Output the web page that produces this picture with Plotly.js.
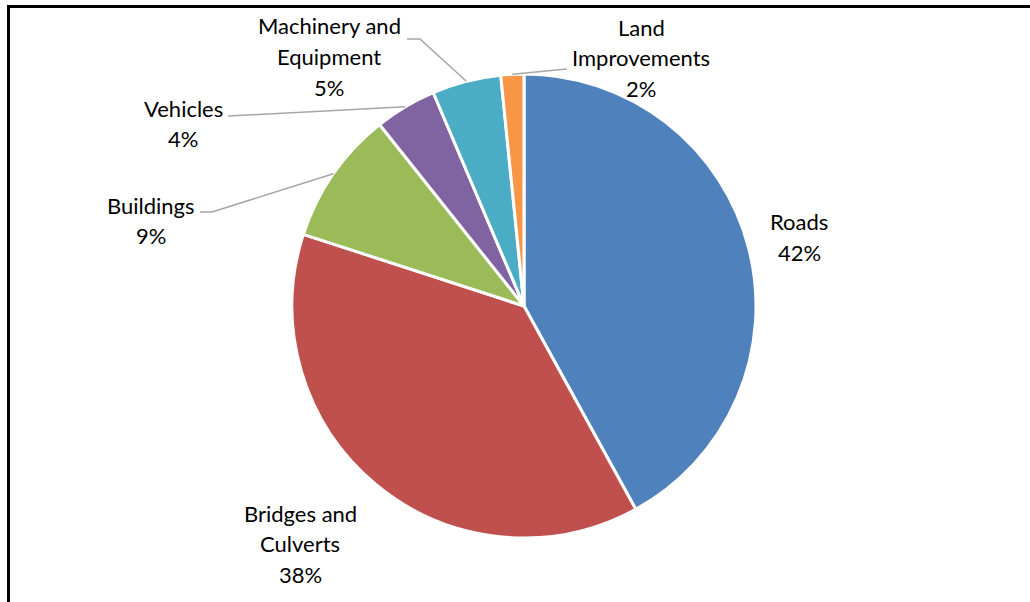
<!DOCTYPE html>
<html>
<head>
<meta charset="utf-8">
<script src="https://cdn.plot.ly/plotly-3.0.1.min.js"></script>
<style>html,body{margin:0;padding:0;background:#fff;}#chart{width:1030px;height:602px;}</style>
</head>
<body>
<div id="chart"></div>
<script>
// ---- data ----
const categories = ['Roads', 'Bridges and Culverts', 'Buildings', 'Vehicles', 'Machinery and Equipment', 'Land Improvements'];
const values = [42.0, 38.0, 9.3, 4.3, 4.8, 1.6];
const colors = ['#4F81BD', '#C0504D', '#9BBB59', '#8064A2', '#4BACC6', '#F79646'];
const labelLines = [['Roads'], ['Bridges and', 'Culverts'], ['Buildings'], ['Vehicles'], ['Machinery and', 'Equipment'], ['Land', 'Improvements']];

// ---- layout constants (pixels) ----
const W = 1030, H = 602;
const CX = 524, CY = 306, R = 232;
// label block position: centre x, first-line y
const labelPos = [[799, 222], [300, 513], [151, 205], [183, 108], [329, 26], [641, 27]];
// leader line start points (label side); null = no leader
const leaderStart = [null, null, [[200, 212], [212, 212]], [[228, 116]], [[407, 39], [420, 39]], [[567, 69]]];
const LINE_H = 30.5;

const px = x => x / W;
const py = y => 1 - y / H;

const total = values.reduce((a, b) => a + b, 0);
const annotations = [];
const shapes = [];
let cum = 0;
values.forEach((v, i) => {
  const mid = (cum + v / 2) / total;
  cum += v;
  const ang = mid * 2 * Math.PI; // clockwise from 12 o'clock
  const ex = CX + R * Math.sin(ang), ey = CY - R * Math.cos(ang);
  const lines = labelLines[i].concat([Math.round(v / total * 100) + '%']);
  lines.forEach((t, k) => {
    annotations.push({
      xref: 'paper', yref: 'paper', x: px(labelPos[i][0]), y: py(labelPos[i][1] + k * LINE_H),
      xanchor: 'center', yanchor: 'middle', showarrow: false, text: t,
      font: {family: 'Lato, "Open Sans", sans-serif', size: 22, color: '#000'}
    });
  });
  if (leaderStart[i]) {
    const pts = leaderStart[i].concat([[ex, ey]]);
    let d = '';
    pts.forEach((p, k) => { d += (k ? ' L ' : 'M ') + px(p[0]) + ',' + py(p[1]); });
    shapes.push({type: 'path', xref: 'paper', yref: 'paper', path: d, line: {color: '#A6A6A6', width: 1.5}});
  }
});
// chart frame (left and top edges visible)
shapes.push({type: 'line', xref: 'paper', yref: 'paper', x0: px(8.5), x1: px(8.5), y0: py(5), y1: py(602), line: {color: '#000', width: 3}});
shapes.push({type: 'line', xref: 'paper', yref: 'paper', x0: px(7), x1: px(1030), y0: py(6.5), y1: py(6.5), line: {color: '#000', width: 3}});

const trace = {
  type: 'pie', labels: categories, values: values, sort: false, direction: 'clockwise', rotation: 0,
  marker: {colors: colors, line: {color: '#FFFFFF', width: 3}},
  textinfo: 'none', hoverinfo: 'label+percent',
  domain: {x: [px(CX - R), px(CX + R)], y: [py(CY + R), py(CY - R)]}
};
const layout = {
  width: W, height: H, margin: {l: 0, r: 0, t: 0, b: 0},
  paper_bgcolor: '#fff', plot_bgcolor: '#fff', showlegend: false,
  annotations: annotations, shapes: shapes
};
Plotly.newPlot('chart', [trace], layout, {displayModeBar: false, staticPlot: true});
</script>
</body>
</html>
